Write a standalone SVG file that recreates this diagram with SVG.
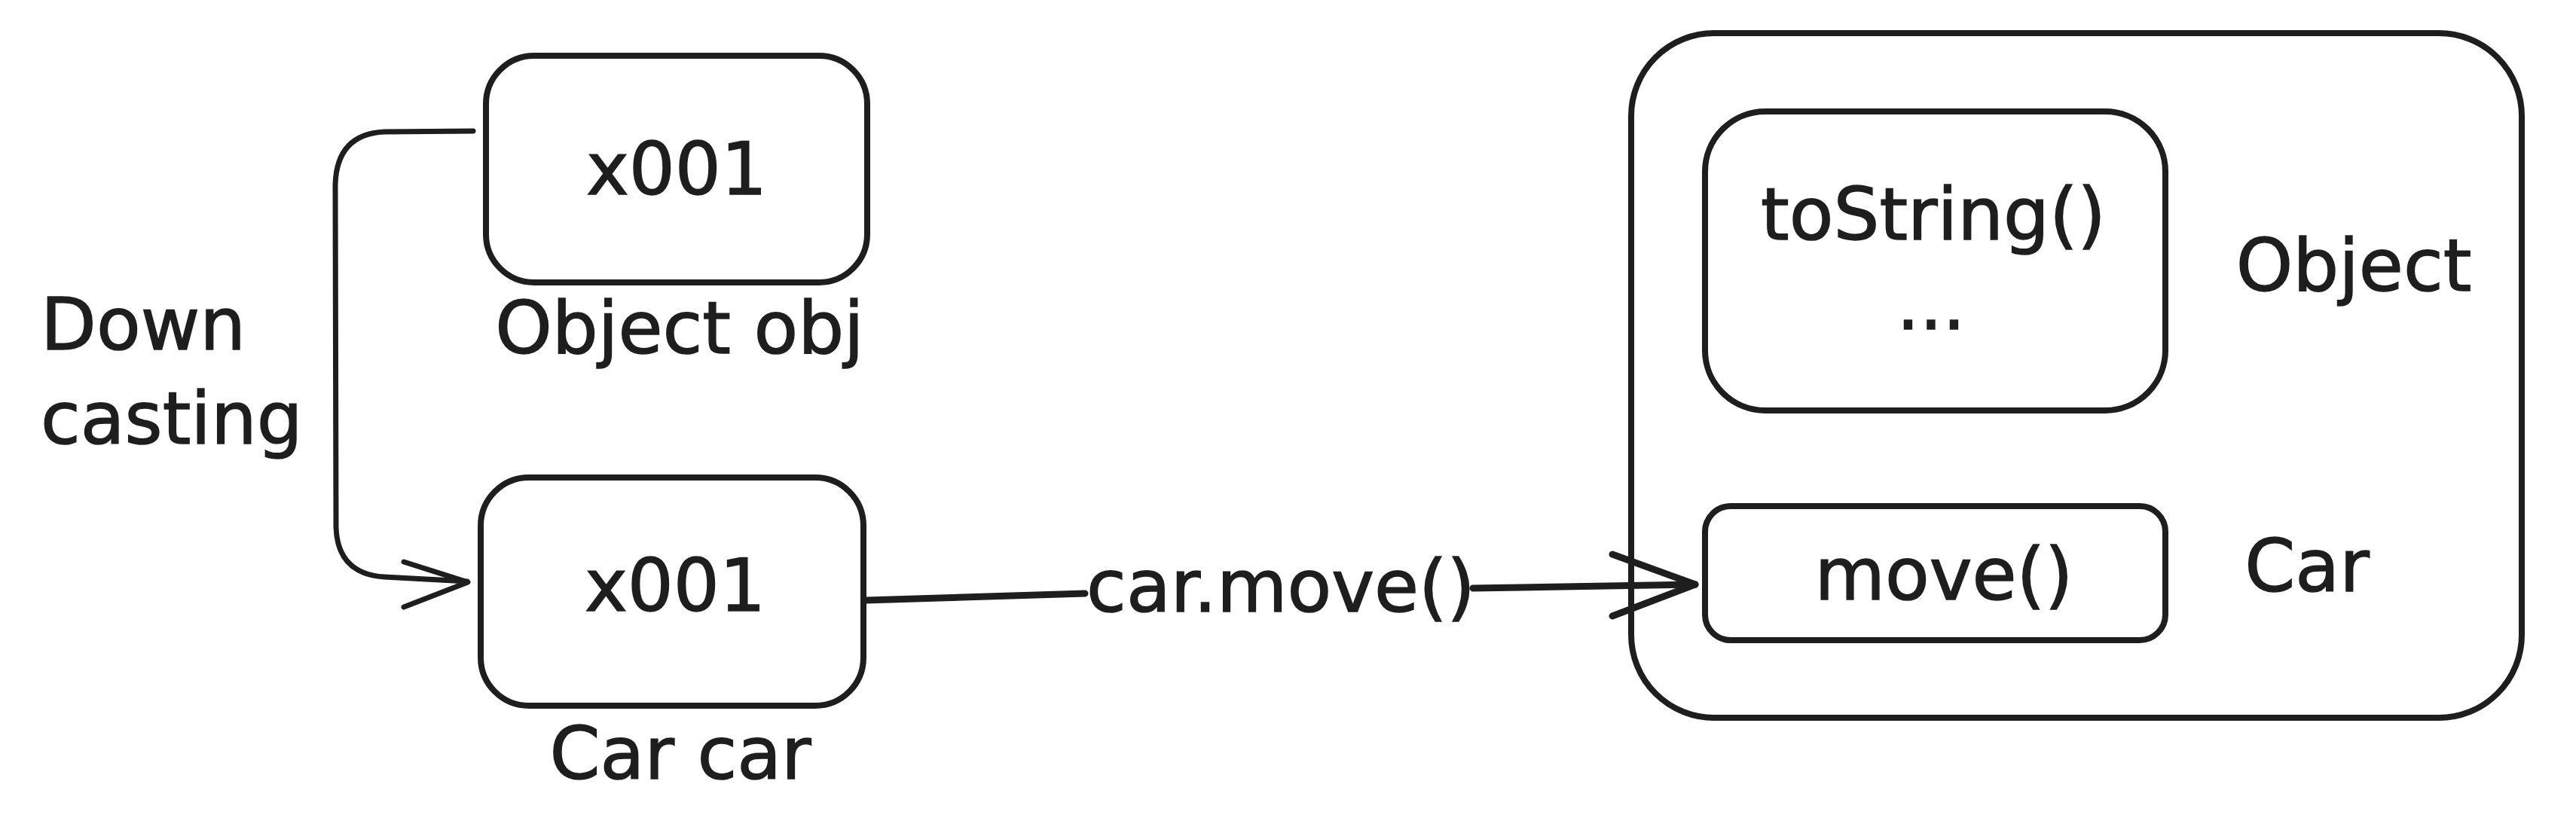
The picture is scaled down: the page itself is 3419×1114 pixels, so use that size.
<svg xmlns="http://www.w3.org/2000/svg" width="3419" height="1114" viewBox="0 0 3419 1114">
<style>
.box{fill:none;stroke:#1e1e1e;stroke-width:8;stroke-linecap:round;stroke-linejoin:round}
.ln{fill:none;stroke:#1e1e1e;stroke-width:7;stroke-linecap:round;stroke-linejoin:round}
.arr{fill:none;stroke:#1e1e1e;stroke-width:9;stroke-linecap:round;stroke-linejoin:round}
text{font-family:"DejaVu Sans","Liberation Sans",sans-serif;font-size:96px;fill:#1e1e1e;stroke:#1e1e1e;stroke-width:1.5}
.c{text-anchor:middle}
</style>
<rect width="3419" height="1114" fill="#ffffff"/>
<g id="connectors">
  <path class="ln" d="M628,174 L510,175 Q447,178 445,245 L446,700 Q448,762 510,766 L620,772"/>
  <path class="ln" d="M536,746 L621,773 L536,806"/>
  <path class="arr" d="M1150,797 L1440,788"/>
  <path class="arr" d="M1955,781 L2250,776"/>
  <path class="arr" d="M2140,736 L2250,776 L2140,818"/>
  <text class="c" x="1700" y="812" font-size="84">car.move()</text>
</g>
<g id="obj-ref">
  <rect class="box" x="645" y="74" width="506" height="301" rx="64"/>
  <text class="c" x="898" y="258">x001</text>
  <text class="c" x="902" y="469">Object obj</text>
</g>
<g id="car-ref">
  <rect class="box" x="638" y="634" width="508" height="303" rx="64"/>
  <text class="c" x="896" y="811">x001</text>
  <text class="c" x="903" y="1034">Car car</text>
</g>
<g id="downcasting-label">
  <text x="54" y="464" font-size="92">Down</text>
  <text x="54" y="589">casting</text>
</g>
<g id="heap-object">
  <rect class="box" x="2165" y="44" width="1182" height="909" rx="110"/>
  <text class="c" x="3124" y="386">Object</text>
  <text class="c" x="3062" y="785">Car</text>
</g>
<g id="tostring-box">
  <rect class="box" x="2263" y="148" width="611" height="397" rx="80"/>
  <text class="c" x="2566" y="318">toString()</text>
  <text class="c" x="2563" y="437">...</text>
</g>
<g id="move-box">
  <rect class="box" x="2263" y="672" width="611" height="178" rx="34"/>
  <text class="c" x="2580" y="796" font-size="90">move()</text>
</g>
</svg>
